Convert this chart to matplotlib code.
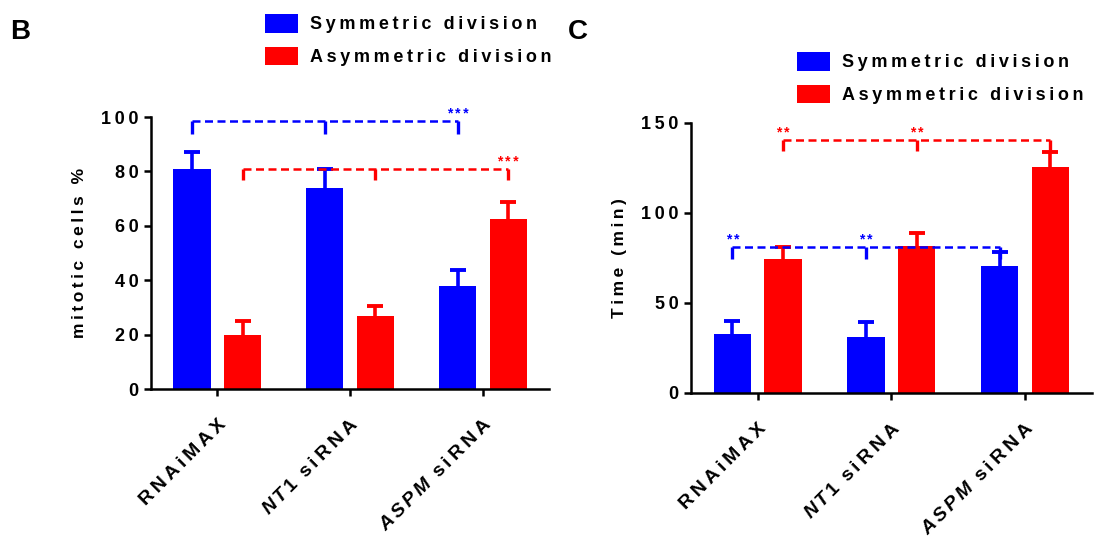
"""
plot.py

Recreates the two-panel bar chart (B: mitotic cells %, C: division time).
"""

import matplotlib
matplotlib.use("Agg")
import matplotlib.pyplot as plt
from matplotlib.patches import Patch

plt.rcParams["font.family"] = ["Liberation Sans", "DejaVu Sans"]
plt.rcParams["font.weight"] = "bold"
plt.rcParams["mathtext.fontset"] = "custom"
plt.rcParams["mathtext.it"] = "Liberation Sans:italic:bold"
plt.rcParams["mathtext.rm"] = "Liberation Sans:bold"

# Data
groups = ["RNAiMAX", "NT1 siRNA", "ASPM siRNA"]
series = ["Symmetric division", "Asymmetric division"]

b_sym = [81, 74, 38]
b_sym_err = [6, 7, 5.7]
b_asym = [20, 27, 62.7]
b_asym_err = [5, 3.6, 6.2]

c_sym = [32.7, 30.8, 70.7]
c_sym_err = [7.2, 8.7, 7.3]
c_asym = [74.6, 81.7, 125.7]
c_asym_err = [6.7, 7.0, 8.1]

b_yticks = [0, 20, 40, 60, 80, 100]
c_yticks = [0, 50, 100, 150]

BLUE = "#0000FF"
RED = "#FF0000"
TS = "\u2009"  # thin space used to mimic the wide letter spacing


def spaced(s):
    return TS.join(s)


xlabels = [
    spaced("RNAiMAX"),
    r"$\mathit{N\,T\,1}\;\;$" + spaced("siRNA"),
    r"$\mathit{A\,S\,P\,M}\;\;$" + spaced("siRNA"),
]


def draw_bars(ax, sym, sym_err, asym, asym_err, ymax, yticks):
    x = range(len(groups))
    off = 0.19
    w = 0.28
    xs = [i - off for i in x]
    xa = [i + off for i in x]
    ax.bar(xs, sym, width=w, color=BLUE, zorder=2)
    ax.bar(xa, asym, width=w, color=RED, zorder=2)

    # upper error bars only
    for xp, v, e, c in zip(xs + xa, sym + asym, sym_err + asym_err,
                           [BLUE] * 3 + [RED] * 3):
        ax.plot([xp, xp], [v, v + e], color=c, lw=2.6, zorder=3,
                solid_capstyle="butt")
        ax.plot([xp], [v + e], marker="_", markersize=11.5,
                markeredgewidth=2.8, color=c, zorder=3)

    ax.set_xlim(-0.5, 2.5)
    ax.set_ylim(0, ymax)
    ax.set_xticks(list(x))
    ax.set_xticklabels(xlabels, rotation=45, ha="right", va="top",
                       rotation_mode="anchor", fontsize=14, fontweight="bold")
    ax.set_yticks(yticks)
    ax.set_yticklabels([spaced(str(t)) for t in yticks], fontsize=13,
                       fontweight="bold")

    for s in ["top", "right"]:
        ax.spines[s].set_visible(False)
    for s in ["left", "bottom"]:
        ax.spines[s].set_linewidth(1.8)
    ax.tick_params(axis="both", width=1.8, length=5)
    ax.tick_params(axis="x", pad=14.5)
    ax.tick_params(axis="y", pad=4)
    return xs, xa


def bracket(ax, xpos, y, ytick, color, stars):
    ax.plot([xpos[0], xpos[-1]], [y, y], color=color, lw=1.8,
            linestyle=(0, (3.2, 1.8)), clip_on=False, zorder=4)
    for xp in xpos:
        ax.plot([xp, xp], [y, ytick], color=color, lw=2.4, clip_on=False,
                zorder=4, solid_capstyle="butt")
    for xp in stars:
        ax.text(xp, y, spaced(stars[xp]), color=color, fontsize=10,
                ha="center", va="bottom", clip_on=False)


fig = plt.figure(figsize=(11.01, 5.42), dpi=100)

# Panel B
axb = fig.add_axes([0.137, 0.282, 0.362, 0.502])
xs, xa = draw_bars(axb, b_sym, b_sym_err, b_asym, b_asym_err, 100, b_yticks)
axb.set_ylabel(spaced("mitotic cells %"), fontsize=12.5, fontweight="bold",
               labelpad=10)
bracket(axb, xs, 98.5, 93.7, BLUE, {xs[2]: "***"})
bracket(axb, xa, 80.9, 76.8, RED, {xa[2]: "***"})

# Panel C
axc = fig.add_axes([0.6276, 0.2755, 0.364, 0.4976])
xs, xa = draw_bars(axc, c_sym, c_sym_err, c_asym, c_asym_err, 150, c_yticks)
axc.set_ylabel(spaced("Time (min)"), fontsize=12.5, fontweight="bold",
               labelpad=10)
bracket(axc, xa, 140.7, 134.2, RED, {xa[0]: "**", xa[1]: "**"})
bracket(axc, xs, 81, 74.4, BLUE, {xs[0]: "**", xs[1]: "**"})

# Legends
handles = [Patch(facecolor=BLUE), Patch(facecolor=RED)]
labels = [spaced(s) for s in series]
for anchor in [(0.2407, 0.974), (0.7239, 0.904)]:
    fig.legend(handles, labels, loc="upper left", bbox_to_anchor=anchor,
               frameon=False, handlelength=1.83, handleheight=1.2,
               handletextpad=0.65, labelspacing=0.75, borderpad=0,
               borderaxespad=0, prop={"weight": "bold", "size": 13})

# Panel letters
fig.text(0.009, 0.965, "B", fontsize=20, fontweight="bold", va="top")
fig.text(0.516, 0.965, "C", fontsize=20, fontweight="bold", va="top")

fig.savefig("out.png", dpi=100)
